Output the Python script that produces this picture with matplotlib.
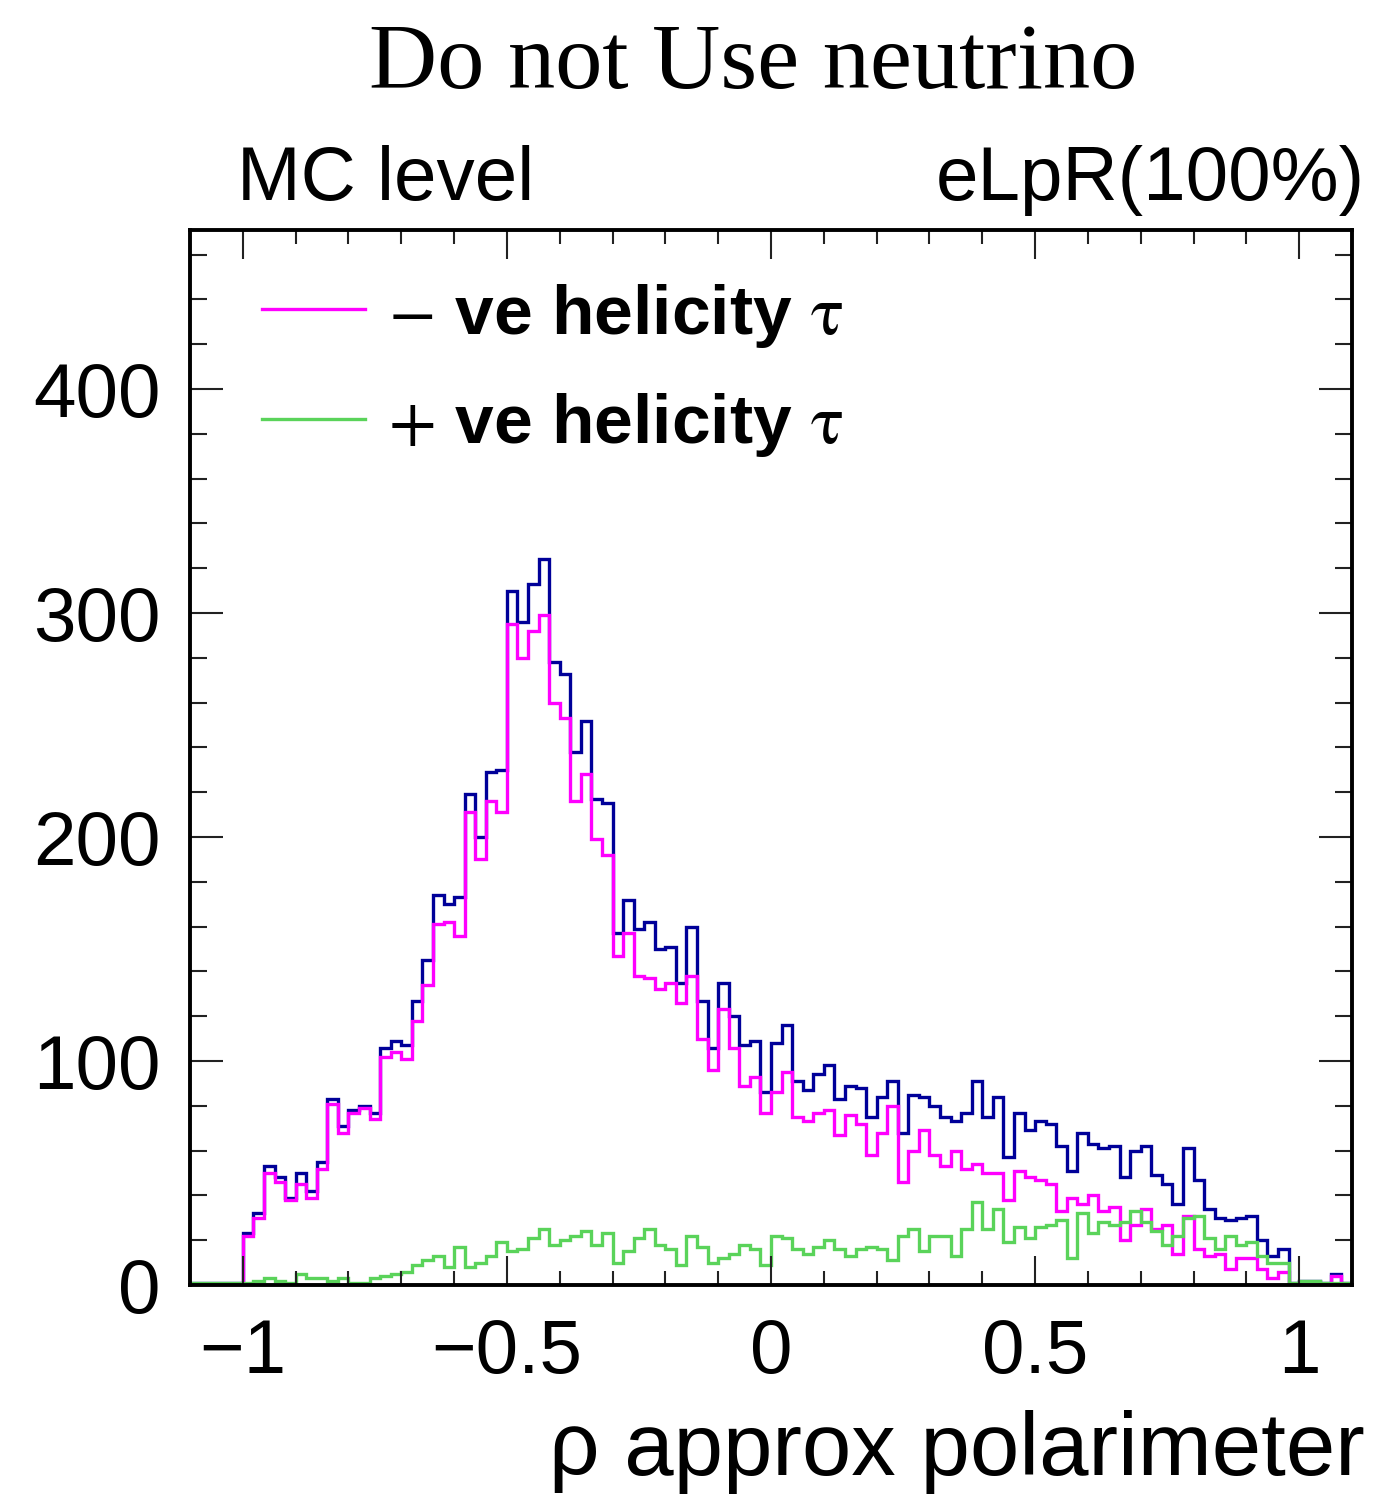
import numpy as np
import matplotlib
matplotlib.use("Agg")
import matplotlib.pyplot as plt
from matplotlib.ticker import MultipleLocator

plt.rcParams['font.family'] = ['Liberation Sans', 'DejaVu Sans']
plt.rcParams['mathtext.fontset'] = 'stix'

# histogram binning: 110 bins from -1.1 to 1.1
edges = np.linspace(-1.1, 1.1, 111)

# -ve helicity tau (magenta), counts per bin
neg_hel = [0, 0, 0, 0, 0, 22, 30, 50, 46, 38,
           45, 39, 52, 81, 68, 77, 79, 74, 102, 104,
           101, 118, 134, 161, 162, 156, 211, 190, 216, 211,
           295, 280, 292, 299, 260, 253, 216, 228, 199, 192,
           147, 157, 138, 137, 132, 135, 126, 138, 110, 96,
           123, 106, 89, 93, 77, 86, 95, 75, 73, 77,
           78, 67, 76, 72, 58, 68, 80, 46, 60, 69,
           58, 53, 60, 52, 54, 50, 50, 38, 51, 48,
           47, 45, 33, 39, 36, 40, 33, 35, 20, 27,
           34, 25, 27, 14, 31, 16, 13, 14, 7, 12,
           12, 7, 3, 6, 0, 0, 0, 0, 4, 0]

# +ve helicity tau (green), counts per bin
pos_hel = [1, 1, 1, 1, 1, 1, 2, 3, 2, 1,
           5, 3, 3, 2, 3, 1, 1, 3, 4, 5,
           6, 9, 11, 13, 8, 17, 8, 10, 13, 19,
           15, 16, 21, 25, 18, 20, 22, 24, 18, 23,
           10, 15, 21, 25, 18, 16, 9, 22, 17, 10,
           12, 14, 18, 16, 9, 22, 21, 16, 14, 17,
           20, 16, 13, 16, 17, 16, 11, 22, 25, 15,
           22, 22, 13, 25, 37, 25, 34, 19, 26, 21,
           26, 27, 29, 12, 32, 23, 28, 27, 28, 33,
           28, 24, 18, 22, 30, 31, 21, 16, 22, 18,
           19, 13, 10, 10, 1, 2, 2, 1, 1, 1]

neg_hel = np.array(neg_hel)
pos_hel = np.array(pos_hel)
total = neg_hel + pos_hel  # sum of both helicities (blue)

W, H = 1384, 1494
fig = plt.figure(figsize=(W / 100, H / 100), dpi=100)
ax = fig.add_axes([190 / W, 209 / H, 1162 / W, 1055 / H])

lw = 2.4
ax.stairs(total, edges, color='#000099', lw=lw)
ax.stairs(neg_hel, edges, color='#ff00ff', lw=lw,
          label=r'$-$ ve helicity $\mathrm{\tau}$')
ax.stairs(pos_hel, edges, color='#5ad35a', lw=lw,
          label=r'$+$ ve helicity $\mathrm{\tau}$')

ax.set_xlim(-1.1, 1.1)
ax.set_ylim(0, 471)

ax.xaxis.set_major_locator(MultipleLocator(0.5))
ax.xaxis.set_minor_locator(MultipleLocator(0.1))
ax.yaxis.set_major_locator(MultipleLocator(100))
ax.yaxis.set_minor_locator(MultipleLocator(20))
ax.xaxis.set_major_formatter(plt.FuncFormatter(
    lambda v, p: ('%g' % v).replace('-', '\u2212')))

for s in ax.spines.values():
    s.set_linewidth(2.8)
ax.tick_params(which='both', direction='in', top=True, right=True,
               labelsize=55, width=1.5, color='#222222')
ax.tick_params(axis='y', which='major', length=24, pad=21)
ax.tick_params(axis='y', which='minor', length=12)
ax.tick_params(axis='x', which='major', length=21, pad=24)
ax.tick_params(axis='x', which='minor', length=10)

leg = ax.legend(loc='upper left', bbox_to_anchor=(0.062, 0.951), frameon=False,
                prop={'size': 50, 'weight': 'bold'}, handlelength=1.48,
                handletextpad=0.33, labelspacing=0.6, borderpad=0,
                borderaxespad=0)
for l in leg.get_lines():
    l.set_linewidth(2.4)

fig.text(753 / W, 1 - 88 / H, 'Do not Use neutrino', family='Liberation Serif',
         fontsize=68, ha='center', va='baseline')
fig.text(237 / W, 1 - 200 / H, 'MC level', fontsize=55, ha='left', va='baseline')
fig.text(1365 / W, 1 - 200 / H, 'eLpR(100%)', fontsize=55, ha='right', va='baseline')
fig.text(1365 / W, 1 - 1475 / H, '\u03c1 approx polarimeter', fontsize=64,
         ha='right', va='baseline')

fig.savefig('out.png', dpi=100)
